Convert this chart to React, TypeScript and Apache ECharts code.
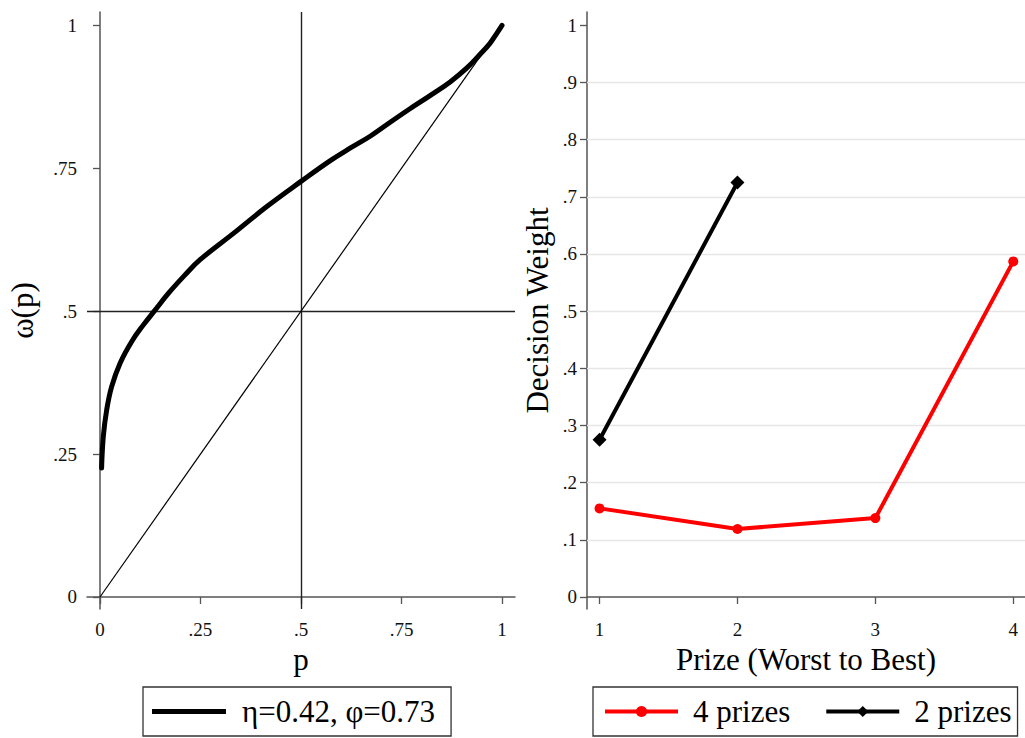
import React, { useEffect, useRef } from "react";
import * as echarts from "echarts";

// Left panel: probability weighting curve
const curveP = [0.004, 0.0083, 0.0166, 0.029, 0.05, 0.079, 0.108, 0.135, 0.17, 0.211, 0.249, 0.332, 0.415, 0.5, 0.572, 0.622, 0.672, 0.721, 0.771, 0.821, 0.871, 0.912, 0.945, 0.97, 0.987, 1];
const curveW = [0.2255, 0.281, 0.327, 0.368, 0.409, 0.447, 0.476, 0.5, 0.531, 0.563, 0.59, 0.636, 0.683, 0.727, 0.763, 0.785, 0.806, 0.83, 0.854, 0.877, 0.901, 0.925, 0.949, 0.9685, 0.986, 1];
const diagP = [0, 1];
const diagW = [0, 1];
const leftTicks = [0, 0.25, 0.5, 0.75, 1];
const curveName = "η=0.42, φ=0.73";

// Right panel: decision weights
const prizes4 = [1, 2, 3, 4];
const weights4 = [0.155, 0.119, 0.138, 0.587];
const prizes2 = [1, 2];
const weights2 = [0.275, 0.725];
const rightYTicks = [0, 0.1, 0.2, 0.3, 0.4, 0.5, 0.6, 0.7, 0.8, 0.9, 1];
const rightGridVals = [0.1, 0.2, 0.3, 0.4, 0.5, 0.6, 0.7, 0.8, 0.9];
const rightXTicks = [1, 2, 3, 4];

const SERIF = "Liberation Serif";
const fmt = (v: number) => {
  if (v === 0) return "0";
  if (v === 1) return "1";
  return String(Math.round(v * 100) / 100).replace(/^0/, "");
};

export default function App() {
  const ref = useRef<HTMLDivElement>(null);
  useEffect(() => {
    const chart = echarts.init(ref.current!, null, { renderer: "svg" });
    const axisLine = { show: true, lineStyle: { color: "#555", width: 1.5 } };
    const axisTick = (vals: number[]) => ({
      show: true,
      length: 7,
      customValues: vals,
      lineStyle: { color: "#555", width: 1.3 },
    });
    const axisLabel = (vals: number[], margin: number) => ({
      show: true,
      customValues: vals,
      formatter: (v: number) => fmt(v),
      fontFamily: SERIF,
      fontSize: 19,
      color: "#111",
      margin,
    });
    const nameStyle = { fontFamily: SERIF, fontSize: 31, color: "#000" };

    chart.setOption({
      animation: false,
      textStyle: { fontFamily: SERIF },
      grid: [
        { left: 87, top: 12, width: 428, height: 597, outerBoundsMode: "none", containLabel: false },
        { left: 587, top: 12, width: 438, height: 597, outerBoundsMode: "none", containLabel: false },
      ],
      xAxis: [
        {
          type: "value",
          gridIndex: 0,
          min: -0.0323,
          max: 1.0323,
          axisLine,
          axisTick: axisTick(leftTicks),
          axisLabel: axisLabel(leftTicks, 11),
          splitLine: { show: false },
          name: "p",
          nameLocation: "middle",
          nameGap: 33,
          nameTextStyle: nameStyle,
        },
        {
          type: "value",
          gridIndex: 1,
          min: 0.909,
          max: 4.085,
          axisLine,
          axisTick: axisTick(rightXTicks),
          axisLabel: axisLabel(rightXTicks, 11),
          splitLine: { show: false },
          name: "Prize (Worst to Best)",
          nameLocation: "middle",
          nameGap: 33,
          nameTextStyle: nameStyle,
        },
      ],
      yAxis: [
        {
          type: "value",
          gridIndex: 0,
          min: -0.021,
          max: 1.0233,
          axisLine,
          axisTick: axisTick(leftTicks),
          axisLabel: axisLabel(leftTicks, 10),
          splitLine: { show: false },
          name: "ω(p)",
          nameLocation: "middle",
          nameGap: 49,
          nameTextStyle: nameStyle,
        },
        {
          type: "value",
          gridIndex: 1,
          min: -0.021,
          max: 1.0233,
          axisLine,
          axisTick: axisTick(rightYTicks),
          axisLabel: axisLabel(rightYTicks, 10),
          splitLine: { show: false },
          name: "Decision Weight",
          nameLocation: "middle",
          nameGap: 34,
          nameTextStyle: nameStyle,
        },
      ],
      legend: [
        {
          data: [{ name: curveName, icon: "rect" }],
          left: 143,
          top: 687,
          orient: "horizontal",
          borderColor: "#333",
          borderWidth: 1.3,
          padding: [9, 16, 9, 9],
          itemWidth: 74,
          itemHeight: 5,
          itemStyle: { color: "#000" },
          textStyle: { fontFamily: SERIF, fontSize: 31, color: "#000", padding: [0, 0, 0, 11] },
          selectedMode: false,
        },
        {
          data: ["4 prizes", "2 prizes"],
          left: 593,
          top: 687,
          orient: "horizontal",
          borderColor: "#333",
          borderWidth: 1.3,
          padding: [9, 6, 9, 10],
          itemGap: 34,
          itemWidth: 73,
          itemHeight: 14,
          lineStyle: { width: 4 },
          textStyle: { fontFamily: SERIF, fontSize: 31, color: "#000", padding: [0, 0, 0, 10] },
          selectedMode: false,
        },
      ],
      series: [
        {
          name: "diag",
          type: "line",
          xAxisIndex: 0,
          yAxisIndex: 0,
          data: diagP.map((p, i) => [p, diagW[i]]),
          symbol: "none",
          silent: true,
          lineStyle: { color: "#000", width: 1.2 },
          markLine: {
            silent: true,
            symbol: ["none", "none"],
            label: { show: false },
            z: 1,
            lineStyle: { color: "#222", width: 1.4, type: "solid" },
            emphasis: { disabled: true },
            data: [{ xAxis: 0.5 }, { yAxis: 0.5 }],
          },
        },
        {
          name: curveName,
          type: "line",
          xAxisIndex: 0,
          yAxisIndex: 0,
          data: curveP.map((p, i) => [p, curveW[i]]),
          symbol: "none",
          smooth: 0.4,
          silent: true,
          z: 3,
          itemStyle: { color: "#000" },
          lineStyle: { color: "#000", width: 5, cap: "round", join: "round" },
        },
        {
          name: "4 prizes",
          type: "line",
          xAxisIndex: 1,
          yAxisIndex: 1,
          data: prizes4.map((x, i) => [x, weights4[i]]),
          symbol: "circle",
          symbolSize: 10,
          silent: true,
          itemStyle: { color: "#ff0000" },
          lineStyle: { color: "#ff0000", width: 4 },
          markLine: {
            silent: true,
            symbol: ["none", "none"],
            label: { show: false },
            z: 1,
            lineStyle: { color: "#e6e6e6", width: 1.3, type: "solid" },
            emphasis: { disabled: true },
            data: rightGridVals.map((v) => ({ yAxis: v })),
          },
        },
        {
          name: "2 prizes",
          type: "line",
          xAxisIndex: 1,
          yAxisIndex: 1,
          data: prizes2.map((x, i) => [x, weights2[i]]),
          symbol: "diamond",
          symbolSize: 14,
          silent: true,
          itemStyle: { color: "#000" },
          lineStyle: { color: "#000", width: 4 },
        },
      ],
    });
    return () => chart.dispose();
  }, []);
  return (
    <div
      ref={ref}
      style={{ position: "fixed", left: 0, top: 0, width: 1025, height: 738, background: "#fff" }}
    />
  );
}
